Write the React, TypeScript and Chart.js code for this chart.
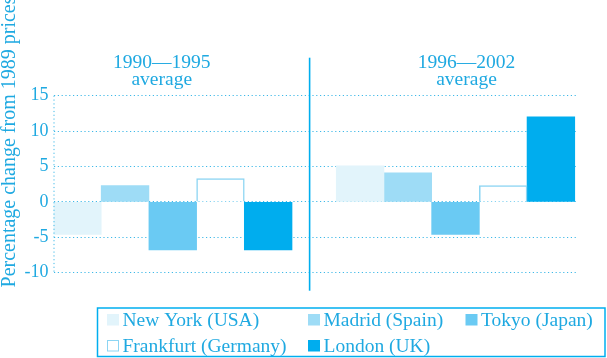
import React, { useEffect, useRef } from 'react';
import { Chart, registerables } from 'chart.js';

Chart.register(...registerables);

// ---- data ----
const periods = ['1990—1995', '1996—2002'];
const periodNote = 'average';
const cities = ['New York (USA)', 'Madrid (Spain)', 'Tokyo (Japan)', 'Frankfurt (Germany)', 'London (UK)'];
const newYork = [-4.6, 5.1];
const madrid = [2.3, 4.1];
const tokyo = [-6.8, -4.6];
const frankfurt = [3.3, 2.3];
const london = [-6.8, 12.0];
const yTicks = [15, 10, 5, 0, -5, -10];
const yTitle = 'Percentage change from 1989 prices';

// ---- styles ----
const TEXT = '#1fa9e1';
const GRID = '#3fb9e8';
const LINE = '#00aeef';
const FONT = "'Liberation Serif', 'Times New Roman', serif";
const fills = ['#e2f4fb', '#9edcf6', '#6acaf3', '#ffffff', '#00adee'];
const strokes = ['#e2f4fb', '#9edcf6', '#6acaf3', '#8cd5f3', '#00adee'];
const strokeWidths = [0, 0, 0, 1.5, 0];
const series = [newYork, madrid, tokyo, frankfurt, london];

const decorPlugin = {
  id: 'decor',
  afterDraw(chart: any) {
    const { ctx, chartArea } = chart;
    const xs = chart.scales.x;
    ctx.save();
    // dotted y axis line
    ctx.strokeStyle = GRID;
    ctx.lineWidth = 1;
    ctx.setLineDash([1.2, 2.6]);
    ctx.beginPath();
    ctx.moveTo(chartArea.left + 0.5, chartArea.top);
    ctx.lineTo(chartArea.left + 0.5, chartArea.bottom);
    ctx.stroke();
    ctx.setLineDash([]);
    // separator
    const sx = xs.getPixelForValue(0.484);
    ctx.strokeStyle = LINE;
    ctx.lineWidth = 1.6;
    ctx.beginPath();
    ctx.moveTo(sx, chartArea.top - 38);
    ctx.lineTo(sx, chartArea.bottom + 18);
    ctx.stroke();
    // period labels
    ctx.fillStyle = TEXT;
    ctx.textAlign = 'center';
    ctx.textBaseline = 'alphabetic';
    ctx.font = `19.5px ${FONT}`;
    const offs = [-11, 11];
    periods.forEach((p, i) => {
      const x = xs.getPixelForValue(i) + offs[i];
      ctx.fillText(p, x, chartArea.top - 27.5);
      ctx.fillText(periodNote, x, chartArea.top - 11);
    });
    // y title
    ctx.save();
    ctx.translate(9.5, 142);
    ctx.rotate(-Math.PI / 2);
    ctx.textAlign = 'center';
    ctx.textBaseline = 'middle';
    ctx.font = `20px ${FONT}`;
    ctx.fillText(yTitle, 0, 0);
    ctx.restore();
    // legend
    ctx.strokeStyle = LINE;
    ctx.lineWidth = 1.5;
    ctx.strokeRect(97.5, 308, 507.5, 48.5);
    const cols = [107, 308, 465.5];
    const rows = [325.5, 351.5];
    ctx.font = `19.5px ${FONT}`;
    ctx.textAlign = 'left';
    chart.data.datasets.forEach((ds: any, i: number) => {
      const c = i % 3;
      const r = Math.floor(i / 3);
      const bx = cols[c];
      const by = rows[r];
      ctx.fillStyle = ds.backgroundColor;
      ctx.fillRect(bx, by - 11.5, 12, 11.5);
      if (ds.borderWidth) {
        ctx.strokeStyle = ds.borderColor;
        ctx.lineWidth = 1;
        ctx.strokeRect(bx + 0.5, by - 11, 11, 10.5);
      }
      ctx.fillStyle = TEXT;
      ctx.fillText(ds.label, bx + 15.5, by);
    });
    ctx.restore();
  },
};

export default function App() {
  const ref = useRef<HTMLCanvasElement | null>(null);
  useEffect(() => {
    if (!ref.current) return;
    const chart = new Chart(ref.current, {
      type: 'bar',
      data: {
        datasets: cities.map((name, k) => ({
          label: name,
          data: series[k].map((v, i) => ({ x: i, y: v })),
          backgroundColor: fills[k],
          borderColor: strokes[k],
          borderWidth: strokeWidths[k],
          barThickness: 47.7,
        })),
      },
      options: {
        responsive: false,
        animation: false,
        layout: { padding: { left: 0, right: 30, top: 95.7, bottom: 85.3 } },
        plugins: { legend: { display: false }, tooltip: { enabled: false } },
        scales: {
          x: {
            type: 'linear',
            display: false,
            offset: false,
            min: -0.4218,
            max: 1.4297,
          },
          y: {
            min: Math.min(...yTicks),
            max: Math.max(...yTicks),
            afterFit: (s: any) => {
              s.width = 53.5;
            },
            afterBuildTicks: (s: any) => {
              s.ticks = yTicks.map((v) => ({ value: v }));
            },
            ticks: {
              color: TEXT,
              padding: 5,
              font: { family: FONT, size: 18 },
            },
            grid: {
              color: GRID,
              lineWidth: 1,
              drawTicks: false,
            },
            border: { display: false, dash: [1.2, 2.6] },
          },
        },
      },
      plugins: [decorPlugin],
    } as any);
    return () => chart.destroy();
  }, []);
  return (
    <div style={{ position: 'absolute', left: 0, top: 0, width: 607, height: 358, background: '#fff' }}>
      <canvas ref={ref} width={607} height={358} />
    </div>
  );
}
